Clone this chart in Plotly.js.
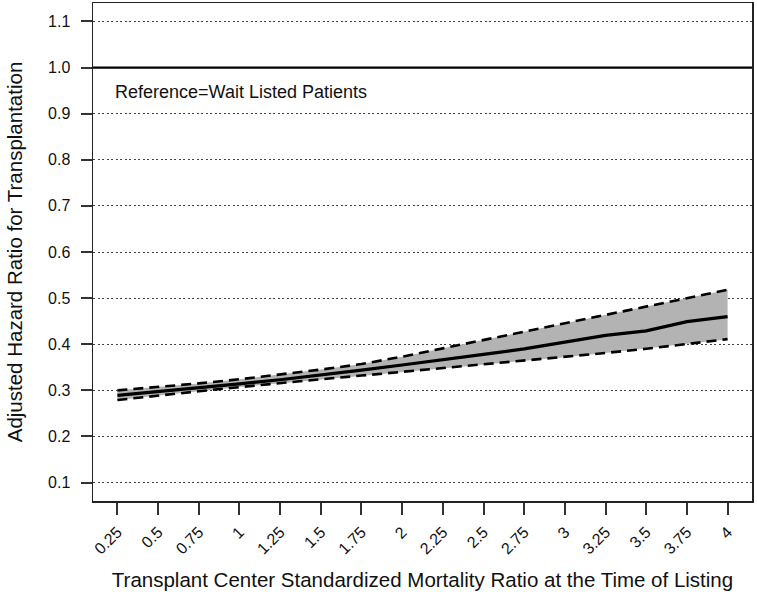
<!DOCTYPE html>
<html>
<head>
<meta charset="utf-8">
<script src="https://cdn.plot.ly/plotly-3.0.1.min.js"></script>
<style>html,body{margin:0;padding:0;background:#fff;}#chart{width:757px;height:599px;}</style>
</head>
<body>
<div id="chart"></div>
<script>
// Data
const smr = [0.25, 0.5, 0.75, 1, 1.25, 1.5, 1.75, 2, 2.25, 2.5, 2.75, 3, 3.25, 3.5, 3.75, 4];
const hrEstimate = [0.289, 0.297, 0.305, 0.314, 0.323, 0.333, 0.344, 0.355, 0.366, 0.378, 0.390, 0.404, 0.419, 0.429, 0.449, 0.460];
const hrUpper = [0.300, 0.307, 0.315, 0.324, 0.334, 0.345, 0.357, 0.373, 0.391, 0.409, 0.427, 0.445, 0.463, 0.481, 0.500, 0.518];
const hrLower = [0.279, 0.289, 0.298, 0.307, 0.316, 0.324, 0.332, 0.340, 0.348, 0.356, 0.364, 0.372, 0.381, 0.390, 0.401, 0.411];
const xTickVals = [0.25, 0.5, 0.75, 1, 1.25, 1.5, 1.75, 2, 2.25, 2.5, 2.75, 3, 3.25, 3.5, 3.75, 4];
const xTickText = ["0.25", "0.5", "0.75", "1", "1.25", "1.5", "1.75", "2", "2.25", "2.5", "2.75", "3", "3.25", "3.5", "3.75", "4"];
const yTickVals = [0.1, 0.2, 0.3, 0.4, 0.5, 0.6, 0.7, 0.8, 0.9, 1.0, 1.1];
const yTickText = ["0.1", "0.2", "0.3", "0.4", "0.5", "0.6", "0.7", "0.8", "0.9", "1.0", "1.1"];
const referenceValue = 1.0;
const referenceLabel = "Reference=Wait Listed Patients";

const font = "Liberation Sans, Arial, Helvetica, sans-serif";
const ink = "#111";

const traces = [
  {
    x: smr.concat(smr.slice().reverse()),
    y: hrUpper.concat(hrLower.slice().reverse()),
    type: "scatter", mode: "lines",
    fill: "toself", fillcolor: "#b3b3b3",
    line: {width: 0}, hoverinfo: "skip", showlegend: false
  },
  {
    x: smr, y: hrUpper, type: "scatter", mode: "lines",
    line: {color: "#000", width: 2.6, dash: "10px,6px"}, showlegend: false
  },
  {
    x: smr, y: hrLower, type: "scatter", mode: "lines",
    line: {color: "#000", width: 2.6, dash: "10px,6px"}, showlegend: false
  },
  {
    x: smr, y: hrEstimate, type: "scatter", mode: "lines",
    line: {color: "#000", width: 3.2}, showlegend: false
  }
];

const layout = {
  width: 757, height: 599,
  margin: {l: 93, r: 5, t: 3, b: 98},
  paper_bgcolor: "#fff", plot_bgcolor: "#fff",
  font: {family: font, color: ink, size: 16},
  xaxis: {
    range: [0.1, 4.15],
    tickmode: "array", tickvals: xTickVals, ticktext: xTickText,
    tickangle: -45,
    ticks: "outside", ticklen: 12, tickwidth: 2, tickcolor: "#333",
    ticklabelstandoff: 2,
    showgrid: false, zeroline: false,
    showline: true, mirror: true, linecolor: "#222", linewidth: 1.5,
    tickfont: {size: 16, family: font, color: ink},
    title: {text: "Transplant Center Standardized Mortality Ratio at the Time of Listing",
            font: {size: 20.5, family: font, color: ink}, standoff: 16},
    automargin: false
  },
  yaxis: {
    range: [0.06, 1.14],
    tickmode: "array", tickvals: yTickVals, ticktext: yTickText,
    ticks: "outside", ticklen: 11, tickwidth: 2, tickcolor: "#333",
    ticklabelstandoff: 7,
    showgrid: true, gridcolor: "#444", gridwidth: 1, griddash: "2px,2.5px",
    zeroline: false,
    showline: true, mirror: true, linecolor: "#222", linewidth: 1.5,
    tickfont: {size: 16, family: font, color: ink},
    title: {text: "Adjusted Hazard Ratio for Transplantation",
            font: {size: 20.5, family: font, color: ink}, standoff: 20},
    automargin: false
  },
  shapes: [
    {type: "line", xref: "paper", x0: 0, x1: 1, yref: "y", y0: referenceValue, y1: referenceValue,
     line: {color: "#000", width: 2.2}, layer: "above"}
  ],
  annotations: [
    {text: referenceLabel, xref: "x", yref: "y", x: 0.222, y: 0.947,
     xanchor: "left", yanchor: "middle", showarrow: false,
     font: {size: 18, family: font, color: ink}}
  ]
};

Plotly.newPlot("chart", traces, layout, {displayModeBar: false, staticPlot: true});
</script>
</body>
</html>
